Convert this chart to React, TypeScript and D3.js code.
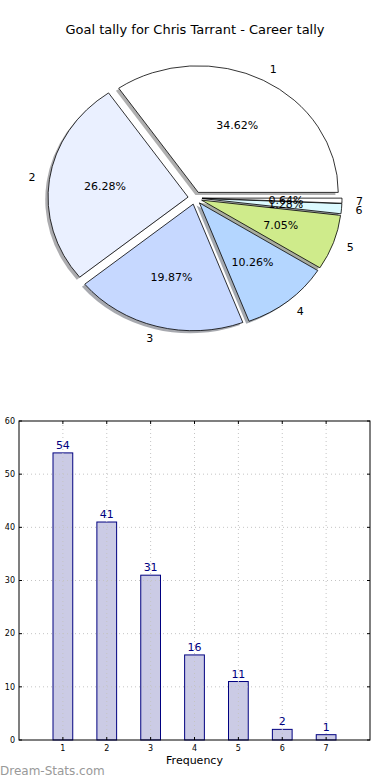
import * as d3 from "d3";
import React from "react";

// goal frequency (goals in a match) -> number of matches
const frequencies = [1, 2, 3, 4, 5, 6, 7];
const counts = [54, 41, 31, 16, 11, 2, 1];
const sliceColors = ["#ffffff", "#eaf0ff", "#c6d8ff", "#b4d6ff", "#cfeb8b", "#dcfaff", "#ffffff"];
const yTicks = [0, 10, 20, 30, 40, 50, 60];

const FONT = "DejaVu Sans, sans-serif";

const PieChart: React.FC = () => {
  const cx = 195,
    cy = 198,
    rx = 140,
    ry = 126.6;
  const explode = 0.05;
  const total = d3.sum(counts);

  // matplotlib starts at 3 o'clock and goes counter-clockwise
  const pie = d3
    .pie<number>()
    .sort(null)
    .startAngle(Math.PI / 2)
    .endAngle(Math.PI / 2 - 2 * Math.PI);
  const arcs = pie(counts);
  const arc = d3.arc<d3.PieArcDatum<number>>().innerRadius(0).outerRadius(100);

  const shadowColor = (c: string) => {
    const rgb = d3.rgb(c);
    return d3.rgb(rgb.r * 0.3, rgb.g * 0.3, rgb.b * 0.3).toString();
  };

  const pos = (a: number, f: number) => ({
    x: cx + f * rx * Math.sin(a),
    y: cy - f * ry * Math.cos(a),
  });

  return (
    <g>
      <text x={195} y={34} textAnchor="middle" fontSize={13} fontFamily={FONT} fill="#000">
        Goal tally for Chris Tarrant - Career tally
      </text>
      {/* shadows go under every wedge */}
      {arcs.map((d, i) => {
        const mid = (d.startAngle + d.endAngle) / 2;
        const o = pos(mid, explode);
        return (
          <path
            key={"s" + i}
            d={arc(d) || ""}
            transform={`translate(${o.x - 0.02 * rx},${o.y + 0.02 * ry}) scale(${rx / 100},${ry / 100})`}
            fill={shadowColor(sliceColors[i])}
            opacity={0.45}
          />
        );
      })}
      {arcs.map((d, i) => {
        const mid = (d.startAngle + d.endAngle) / 2;
        const o = pos(mid, explode);
        return (
          <path
            key={"w" + i}
            d={arc(d) || ""}
            transform={`translate(${o.x},${o.y}) scale(${rx / 100},${ry / 100})`}
            fill={sliceColors[i]}
            stroke="#000"
            strokeWidth={0.8}
            vectorEffect="non-scaling-stroke"
          />
        );
      })}
      {arcs.map((d, i) => {
        const mid = (d.startAngle + d.endAngle) / 2;
        const l = pos(mid, explode + 1.1);
        const p = pos(mid, explode + 0.6);
        return (
          <g key={"l" + i} fontFamily={FONT} fontSize={11} fill="#000">
            <text x={l.x} y={l.y} dy="0.35em" textAnchor={l.x > cx ? "start" : "end"}>
              {frequencies[i]}
            </text>
            <text x={p.x} y={p.y} dy="0.35em" textAnchor="middle">
              {d3.format(".2f")((counts[i] / total) * 100) + "%"}
            </text>
          </g>
        );
      })}
    </g>
  );
};

const BarChart: React.FC = () => {
  const left = 19,
    right = 370,
    top = 421,
    bottom = 740;
  const x = d3.scaleLinear().domain([0, 8]).range([left, right]);
  const y = d3.scaleLinear().domain([0, 60]).range([bottom, top]);
  const barW = 0.45;

  return (
    <g fontFamily={FONT}>
      {counts.map((c, i) => (
        <rect
          key={"b" + i}
          x={x(frequencies[i] - barW / 2)}
          y={y(c)}
          width={x(barW) - x(0)}
          height={bottom - y(c)}
          fill="#cbcbe5"
          stroke="#000080"
          strokeWidth={1}
        />
      ))}
      {/* dotted grid */}
      {yTicks.slice(1, -1).map((t) => (
        <line key={"gy" + t} x1={left} x2={right} y1={y(t)} y2={y(t)} stroke="#c4c4c4" strokeDasharray="1,3" />
      ))}
      {frequencies.map((f) => (
        <line key={"gx" + f} x1={x(f)} x2={x(f)} y1={top} y2={bottom} stroke="#c4c4c4" strokeDasharray="1,3" />
      ))}
      {/* tick marks inside */}
      {frequencies.map((f) => (
        <g key={"tx" + f} stroke="#000">
          <line x1={x(f)} x2={x(f)} y1={bottom} y2={bottom - 3} />
          <line x1={x(f)} x2={x(f)} y1={top} y2={top + 3} />
        </g>
      ))}
      {yTicks.map((t) => (
        <g key={"ty" + t} stroke="#000">
          <line x1={left} x2={left + 3} y1={y(t)} y2={y(t)} />
          <line x1={right} x2={right - 3} y1={y(t)} y2={y(t)} />
        </g>
      ))}
      <rect x={left} y={top} width={right - left} height={bottom - top} fill="none" stroke="#000" strokeWidth={1} />
      {yTicks.map((t) => (
        <text key={"yl" + t} x={left - 4} y={y(t)} dy="0.35em" textAnchor="end" fontSize={8} fill="#000">
          {t}
        </text>
      ))}
      {frequencies.map((f) => (
        <text key={"xl" + f} x={x(f)} y={bottom + 11} textAnchor="middle" fontSize={8} fill="#000">
          {f}
        </text>
      ))}
      {counts.map((c, i) => (
        <text key={"v" + i} x={x(frequencies[i])} y={y(c) - 4} textAnchor="middle" fontSize={11} fill="#000080">
          {c}
        </text>
      ))}
      <text x={(left + right) / 2} y={764} textAnchor="middle" fontSize={11} fill="#000">
        Frequency
      </text>
    </g>
  );
};

export default function App() {
  return (
    <svg
      width={390}
      height={780}
      style={{ position: "absolute", left: 0, top: 0, background: "#fff" }}
    >
      <PieChart />
      <BarChart />
      <text x={0} y={775} fontFamily={FONT} fontSize={12} fill="#999999">
        Dream-Stats.com
      </text>
    </svg>
  );
}
